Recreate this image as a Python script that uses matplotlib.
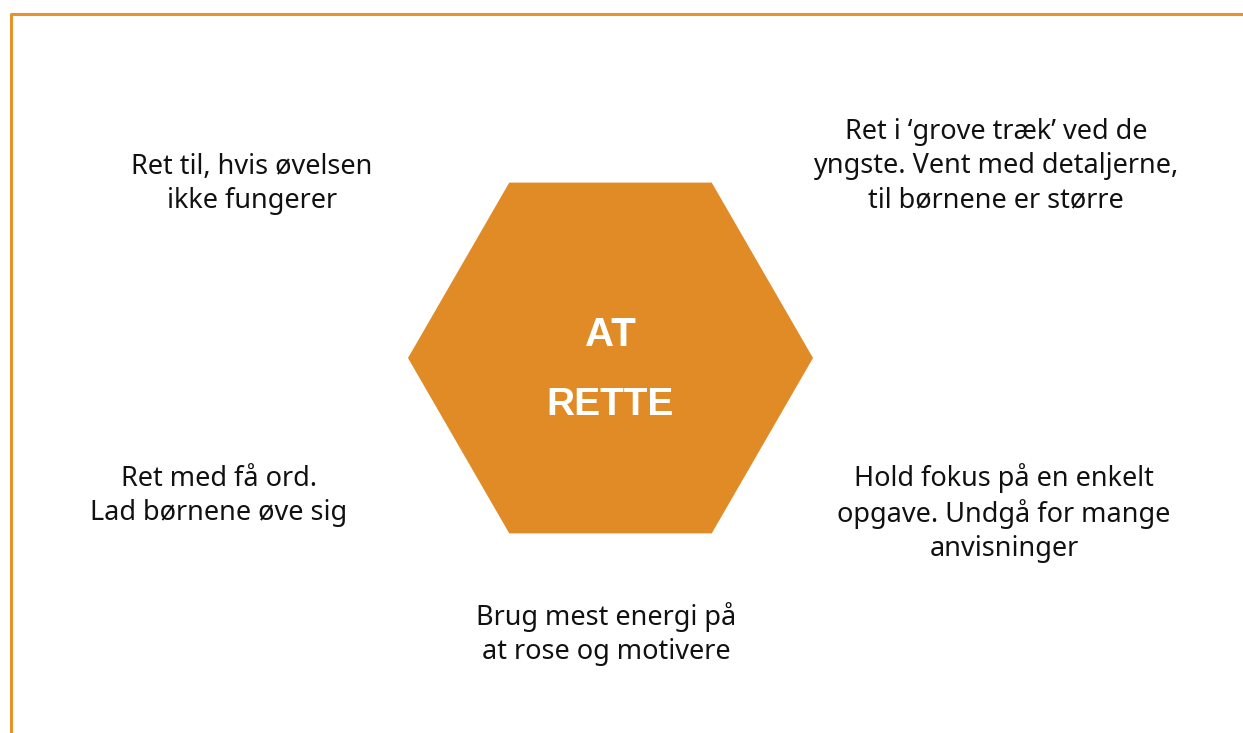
import numpy as np
import matplotlib.pyplot as plt
from matplotlib.patches import RegularPolygon

# tekster omkring sekskanten
center_label = ['AT', 'RETTE']
tips = [
    'Ret til, hvis øvelsen\nikke fungerer',
    'Ret i \u2018grove træk\u2019 ved de\nyngste. Vent med detaljerne,\ntil børnene er større',
    'Ret med få ord.\nLad børnene øve sig',
    'Hold fokus på en enkelt\nopgave. Undgå for mange\nanvisninger',
    'Brug mest energi på\nat rose og motivere',
]

# placering (pixel-koordinater)
tip_xy = [(252, 184), (996, 166), (219, 496), (1004, 513), (606, 634)]
hex_center = (610.5, 358)
hex_radius = 202.5

orange = '#E08B25'
border = '#E8922E'

fig = plt.figure(figsize=(12.43, 7.33), dpi=100)
ax = fig.add_axes([0, 0, 1, 1])
ax.set_xlim(0, 1243)
ax.set_ylim(733, 0)
ax.axis('off')

### ramme
ax.plot([11, 11, 1243], [733, 14, 14], color=border, lw=2.2, solid_capstyle='butt')

### sekskant
hexagon = RegularPolygon(hex_center, 6, radius=hex_radius, orientation=np.pi / 6,
                         facecolor=orange, edgecolor='none')
ax.add_patch(hexagon)

ax.text(hex_center[0], 335, center_label[0], ha='center', va='center', color='white',
        fontsize=29, fontweight='bold', family='Liberation Sans')
ax.text(hex_center[0], 405, center_label[1], ha='center', va='center', color='white',
        fontsize=28, fontweight='bold', family='Liberation Sans')

for (x, y), txt in zip(tip_xy, tips):
    ax.text(x, y, txt, ha='center', va='center', multialignment='center',
            fontsize=19.5, color='#111111', family='Noto Sans', linespacing=1.28)

plt.savefig('out.png', dpi=100)
